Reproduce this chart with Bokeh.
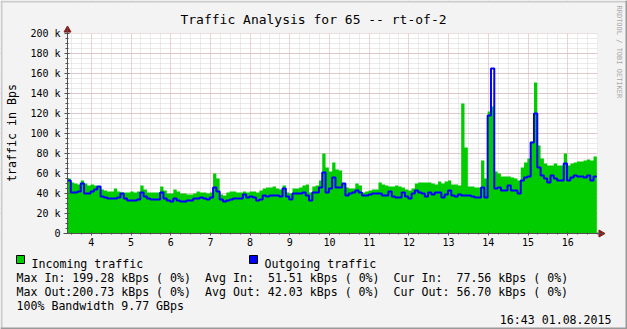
import numpy as np
from math import pi
from bokeh.plotting import figure
from bokeh.models import FixedTicker, Range1d
from bokeh.core.properties import value
from bokeh.embed import file_html
from bokeh.resources import INLINE

# ---------------- data (5-minute averages, kBps) ----------------
start_hour = 3.40
step_hours = 5.0 / 60.0

incoming = [
    55, 51, 50, 49, 53, 50, 48, 49,
    48, 47, 44, 43, 42, 42, 45, 42, 41, 41, 41, 42,
    41, 42, 48, 44, 41, 41, 41, 41, 47, 43, 40, 40,
    44, 42, 40, 40, 39, 39, 40, 42, 41, 41, 40, 41,
    60, 55, 39, 38, 41, 42, 42, 41, 41, 42, 41, 42,
    42, 41, 43, 45, 46, 46, 47, 45, 44, 48, 41, 40,
    45, 45, 46, 48, 49, 41, 47, 48, 53, 80, 66, 62,
    71, 64, 63, 50, 46, 45, 45, 50, 48, 41, 42, 43,
    44, 44, 51, 49, 48, 47, 47, 48, 47, 46, 44, 43,
    45, 50, 51, 51, 51, 51, 50, 49, 52, 50, 52, 53,
    49, 49, 48, 130, 86, 47, 47, 46, 46, 73, 55, 122,
    127, 62, 60, 57, 57, 57, 56, 55, 53, 66, 71, 75,
    92, 151, 88, 75, 70, 68, 68, 70, 68, 68, 80, 68,
    70, 71, 72, 72, 73, 74, 73, 77,
]
outgoing = [
    53, 41, 41, 42, 50, 40, 40, 42,
    44, 47, 37, 36, 35, 35, 35, 36, 40, 35, 33, 33,
    33, 34, 41, 37, 35, 34, 34, 34, 41, 35, 33, 32,
    35, 33, 32, 32, 33, 33, 35, 35, 36, 35, 34, 36,
    46, 42, 34, 32, 33, 34, 35, 35, 35, 39, 36, 37,
    36, 33, 34, 38, 37, 38, 38, 38, 37, 45, 37, 34,
    40, 40, 40, 41, 38, 33, 41, 41, 46, 61, 41, 45,
    56, 46, 46, 50, 38, 40, 41, 43, 41, 38, 38, 39,
    40, 40, 40, 38, 38, 42, 37, 36, 36, 41, 37, 35,
    40, 43, 41, 40, 37, 41, 39, 41, 41, 36, 39, 43,
    38, 37, 39, 38, 38, 38, 37, 36, 36, 46, 36, 118,
    165, 45, 46, 43, 43, 48, 43, 43, 40, 53, 56, 57,
    91, 120, 66, 58, 55, 51, 58, 55, 53, 53, 70, 53,
    56, 58, 57, 57, 56, 58, 53, 57,
]

hour_ticks = [4, 5, 6, 7, 8, 9, 10, 11, 12, 13, 14, 15, 16]
hour_labels = ["4", "5", "6", "7", "8", "9", "10", "11", "12", "13", "14", "15", "16"]
y_ticks = [0, 20, 40, 60, 80, 100, 120, 140, 160, 180, 200]
y_labels = ["0", "20 k", "40 k", "60 k", "80 k", "100 k", "120 k", "140 k",
            "160 k", "180 k", "200 k"]

title_text = "Traffic Analysis for 65 -- rt-of-2"
y_axis_text = "traffic in Bps"
legend_names = ["Incoming traffic", "Outgoing traffic"]
stat_lines = [
    "Max In: 199.28 kBps ( 0%)  Avg In:  51.51 kBps ( 0%)  Cur In:  77.56 kBps ( 0%)",
    "Max Out:200.73 kBps ( 0%)  Avg Out: 42.03 kBps ( 0%)  Cur Out: 56.70 kBps ( 0%)",
    "100% Bandwidth 9.77 GBps",
]
stamp_text = "16:43 01.08.2015"
watermark = "RRDTOOL / TOBI OETIKER"

GREEN = "#00CC00"
BLUE = "#0000FF"
BG = "#F3F3F3"
MONO = "DejaVu Sans Mono"

# ---------------- canvas geometry (whole canvas is the frame) ----------------
W, H = 627, 329
PL, PR, PT, PB = 67, 597, 33, 233      # plot area in pixels
x_start, x_end = 3.40, 16.75            # hours shown in the plot area
y_top = 200.0
sx = (PR - PL) / (x_end - x_start)      # px per hour
sy = (PB - PT) / y_top                  # px per k


def px2x(px):
    return x_start + (px - PL) / sx


def py2y(py):
    return (PB - py) / sy


p = figure(width=W, height=H, output_backend="svg", toolbar_location=None,
           x_range=Range1d(px2x(0), px2x(W)), y_range=Range1d(py2y(H), py2y(0)),
           title=None, min_border=0, min_border_left=0, min_border_right=0,
           min_border_top=0, min_border_bottom=0,
           background_fill_color="white", border_fill_color=BG,
           outline_line_color=None)

quarters = [h / 4 for h in range(14, 68) if h % 4 != 0]
fives = list(range(0, 201, 5))

# axes drawn inside the frame at fixed locations
p.xaxis.fixed_location = 0
p.yaxis.fixed_location = x_start
p.xaxis.bounds = (px2x(63), px2x(603))
p.yaxis.bounds = (0, py2y(27))
p.xaxis.ticker = FixedTicker(ticks=hour_ticks, minor_ticks=quarters)
p.xgrid.ticker = FixedTicker(ticks=hour_ticks, minor_ticks=quarters)
p.yaxis.ticker = FixedTicker(ticks=y_ticks, minor_ticks=fives)
p.ygrid.ticker = FixedTicker(ticks=y_ticks, minor_ticks=fives)
p.xaxis.major_label_overrides = dict(zip(hour_ticks, hour_labels))
p.yaxis.major_label_overrides = dict(zip(y_ticks, y_labels))

for g in (p.xgrid, p.ygrid):
    g.grid_line_color = "#D9A5A5"
    g.grid_line_dash = "1 1"
    g.minor_grid_line_color = "#D6D6D6"
    g.minor_grid_line_dash = "1 1"

for ax in (p.xaxis, p.yaxis):
    ax.axis_line_color = "#505050"
    ax.major_tick_line_color = "#505050"
    ax.minor_tick_line_color = "#505050"
    ax.major_label_text_font = MONO
    ax.major_label_text_font_size = "10px"
    ax.major_label_text_color = "black"
p.yaxis.major_tick_in = 2
p.yaxis.major_tick_out = 3
p.yaxis.minor_tick_in = 1
p.yaxis.minor_tick_out = 2
p.yaxis.major_label_standoff = 4
p.xaxis.major_tick_in = 2
p.xaxis.major_tick_out = 2
p.xaxis.minor_tick_in = 1
p.xaxis.minor_tick_out = 1
p.xaxis.major_label_standoff = 2

# grey margins around the white plot area (cover the full-frame grid lines)
p.quad(left=[px2x(0), px2x(0), px2x(0), px2x(PR)],
       right=[px2x(W), px2x(W), px2x(PL), px2x(W)],
       top=[py2y(0), py2y(PB), py2y(0), py2y(0)],
       bottom=[py2y(PT), py2y(H), py2y(H), py2y(H)],
       fill_color=BG, line_color=None)

# ---------------- data glyphs (step shaped) ----------------
n = len(incoming)
edges = start_hour + step_hours * np.arange(n + 1)
xs = np.repeat(edges, 2)[1:-1]
ys_in = np.repeat(np.array(incoming, dtype=float), 2)
ys_out = np.repeat(np.array(outgoing, dtype=float), 2)

p.varea(x=xs, y1=0, y2=ys_in, fill_color=GREEN, fill_alpha=1)
p.line(xs, ys_out, line_color=BLUE, line_width=2)

# axis arrow heads
ARROW = "#8B1A1A"
p.scatter(x=[x_start], y=[py2y(29.5)], marker="triangle", size=7,
          fill_color=ARROW, line_color=ARROW)
p.scatter(x=[px2x(600.5)], y=[0], marker="triangle", size=7, angle=-pi / 2,
          fill_color=ARROW, line_color=ARROW)

# ---------------- texts ----------------
p.text(x=[px2x(313)], y=[py2y(19)], text=[title_text], text_align="center",
       text_baseline="alphabetic", text_font=value(MONO), text_font_size="13px",
       text_color="black")
p.text(x=[px2x(11)], y=[py2y(132.5)], text=[y_axis_text], angle=pi / 2,
       text_align="center", text_baseline="middle", text_font=value(MONO),
       text_font_size="11.6px", text_color="black")
p.text(x=[px2x(618.5)], y=[py2y(5)], text=[watermark], angle=-pi / 2,
       text_align="left", text_baseline="middle", text_font=value(MONO),
       text_font_size="7px", text_color="#A8A8A8")

FS = 11.6
CH = 0.602 * FS  # monospace advance width in px
LX = 16

# legend squares + names
sq_left = [16, 249]
name_left = [31, 264]
p.quad(left=[px2x(v) for v in sq_left], right=[px2x(v + 8) for v in sq_left],
       top=[py2y(255)] * 2, bottom=[py2y(263)] * 2,
       fill_color=[GREEN, BLUE], line_color="black", line_width=1)
p.text(x=[px2x(v) for v in name_left], y=[py2y(263)] * 2, text=legend_names,
       text_align="left", text_baseline="alphabetic", text_font=value(MONO),
       text_font_size=f"{FS}px", text_color="black")


def split_runs(line):
    """split a line on runs of 2+ spaces, returning (column, text) pairs"""
    out = []
    i = 0
    while i < len(line):
        if line[i] == " ":
            i += 1
            continue
        j = i
        while j < len(line) and not (line[j] == " " and j + 1 < len(line) and line[j + 1] == " "):
            j += 1
        out.append((i, line[i:j].rstrip()))
        i = j
    return out


seg_x, seg_y, seg_t = [], [], []
for line, base in zip(stat_lines, (277.5, 291.5, 305)):
    for col, seg in split_runs(line):
        seg_x.append(px2x(LX + col * CH))
        seg_y.append(py2y(base))
        seg_t.append(seg)
p.text(x=seg_x, y=seg_y, text=seg_t, text_align="left", text_baseline="alphabetic",
       text_font=value(MONO), text_font_size=f"{FS}px", text_color="black")

p.text(x=[px2x(611)], y=[py2y(319)], text=[stamp_text], text_align="right",
       text_baseline="alphabetic", text_font=value(MONO), text_font_size=f"{FS}px",
       text_color="black")

# image shading border (light top/left, dark bottom/right)
p.quad(left=[px2x(0), px2x(0)], right=[px2x(W), px2x(2)],
       top=[py2y(0), py2y(0)], bottom=[py2y(2), py2y(H)],
       fill_color="#CBCBCB", line_color=None)
p.quad(left=[px2x(W - 2), px2x(0)], right=[px2x(W), px2x(W)],
       top=[py2y(0), py2y(H - 2)], bottom=[py2y(H), py2y(H)],
       fill_color="#999999", line_color=None)

open("out.html", "w").write(file_html(p, INLINE))
